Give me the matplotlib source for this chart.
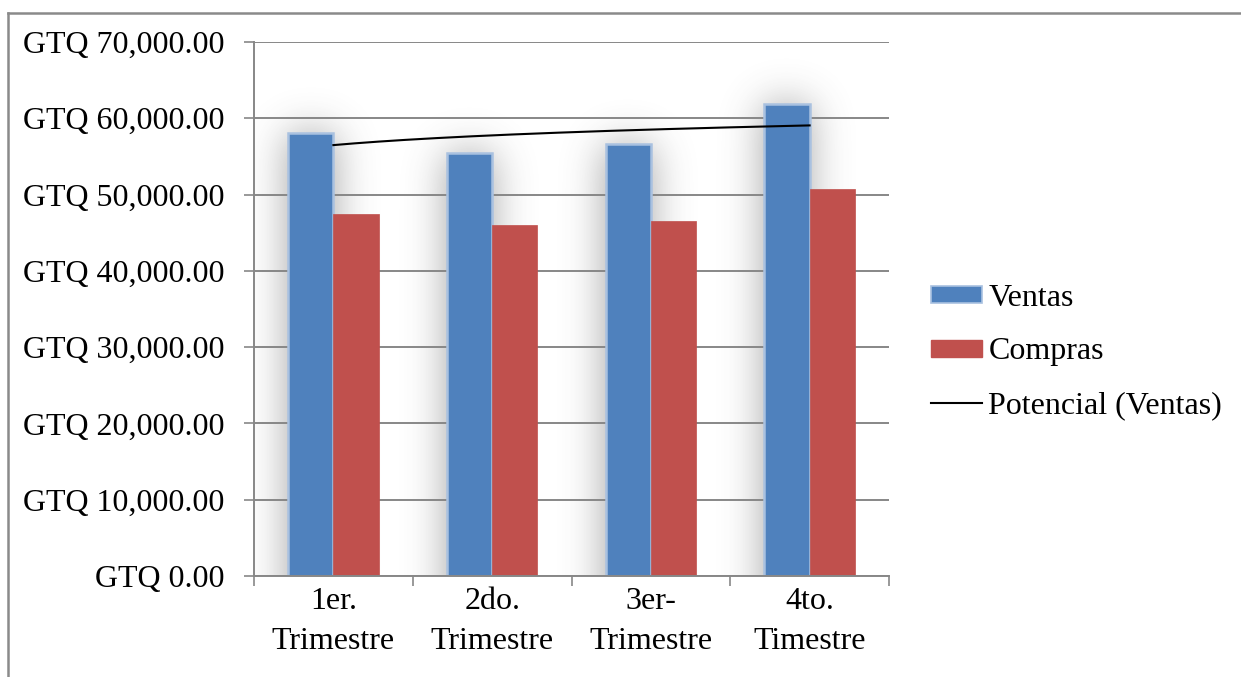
import matplotlib
matplotlib.use("Agg")
import matplotlib.pyplot as plt
import numpy as np
from matplotlib.lines import Line2D
from matplotlib.patches import Patch

# -------------------------
# DATA
# -------------------------
quarters = ["1er.\nTrimestre", "2do.\nTrimestre", "3er-\nTrimestre", "4to.\nTimestre"]
ventas = [58050, 55450, 56600, 61900]
compras = [47450, 46000, 46550, 50750]
y_ticks = [0, 10000, 20000, 30000, 40000, 50000, 60000, 70000]

BLUE = "#4F81BD"
BLUE_EDGE = "#A9C1E0"
RED = "#C0504D"
GRID = "#878787"

plt.rcParams["font.family"] = ["Liberation Serif", "DejaVu Serif"]
plt.rcParams["font.size"] = 23


def gaussian_blur(img, sigma_x, sigma_y):
    def kern(s):
        r = int(3 * s)
        t = np.arange(-r, r + 1)
        k = np.exp(-0.5 * (t / s) ** 2)
        return k / k.sum()
    kx = kern(sigma_x)
    ky = kern(sigma_y)
    out = np.apply_along_axis(lambda r: np.convolve(r, kx, mode="same"), 1, img)
    out = np.apply_along_axis(lambda c: np.convolve(c, ky, mode="same"), 0, out)
    return out


fig = plt.figure(figsize=(12.41, 6.77), dpi=100)
ax = fig.add_axes([254 / 1241, 1 - 576 / 677, 635 / 1241, 534 / 677])

x = np.arange(len(quarters))
width = 1 / 3.5  # gap width 150%

# soft glow behind the Ventas bars
nx, ny = 635, 534
gx = np.linspace(-0.5, 3.5, nx)
gy = np.linspace(0, 70000, ny)
XX, YY = np.meshgrid(gx, gy)
mask = np.zeros_like(XX)
for xi, v in zip(x, ventas):
    left = xi - width
    inside = (XX >= left) & (XX <= xi) & (YY <= v)
    mask[inside] = 1.0
# pad below the baseline so the glow keeps its strength down to y=0
padded = np.vstack([np.repeat(mask[:1], 60, axis=0), mask])
glow = gaussian_blur(padded, 20, 20)[60:]
rgba = np.zeros((ny, nx, 4))
rgba[..., :3] = 0.3
rgba[..., 3] = np.clip(glow * 0.52, 0, 1)
ax.imshow(rgba, extent=(-0.5, 3.5, 0, 70000), origin="lower", aspect="auto",
          zorder=0.2, interpolation="bilinear")

ax.bar(x - width / 2, ventas, width, color=BLUE, edgecolor=BLUE_EDGE, linewidth=1.8,
       zorder=2, label="Ventas")
ax.bar(x + width / 2, compras, width, color=RED, edgecolor=RED, linewidth=0.5,
       zorder=2, label="Compras")

# power trendline fitted on Ventas
xn = x + 1.0
b, ln_a = np.polyfit(np.log(xn), np.log(ventas), 1)
xf = np.linspace(1, len(quarters), 200)
ax.plot(xf - 1, np.exp(ln_a) * xf ** b, color="black", lw=1.5, zorder=3,
        label="Potencial (Ventas)")

ax.set_xlim(-0.5, 3.5)
ax.set_ylim(0, 70000)
ax.set_yticks(y_ticks)
ax.set_yticklabels([f"GTQ {v:,.2f}" for v in y_ticks])
ax.set_xticks(x)
ax.set_xticklabels(quarters, linespacing=1.5)
ax.set_xticks(np.arange(-0.5, 4.0, 1.0), minor=True)
ax.tick_params(axis="x", which="major", length=0, pad=8)
ax.tick_params(axis="x", which="minor", length=7, width=1.2, color=GRID)
ax.tick_params(axis="y", length=7, width=1.2, color=GRID, pad=14)

ax.set_axisbelow(True)
ax.yaxis.grid(True, color=GRID, lw=1.4)
for s in ["top", "right"]:
    ax.spines[s].set_visible(False)
for s in ["left", "bottom"]:
    ax.spines[s].set_color(GRID)
    ax.spines[s].set_linewidth(1.4)

handles = [
    Patch(facecolor=BLUE, edgecolor=BLUE_EDGE, lw=1.2, label="Ventas"),
    Patch(facecolor=RED, edgecolor=RED, label="Compras"),
    Line2D([0], [0], color="black", lw=1.5, label="Potencial (Ventas)"),
]
fig.legend(handles=handles, loc="center left", bbox_to_anchor=(931 / 1241, 1 - 352 / 677),
           frameon=False, handlelength=1.6, handleheight=0.45, handletextpad=0.2,
           labelspacing=0.78, borderpad=0, borderaxespad=0)

# outer chart frame (top and left edges visible)
fig.add_artist(Line2D([7.5 / 1241, 1.0], [1 - 12.5 / 677, 1 - 12.5 / 677],
                      transform=fig.transFigure, color="#8a8a8a", lw=1.8))
fig.add_artist(Line2D([7.5 / 1241, 7.5 / 1241], [0.0, 1 - 12.5 / 677],
                      transform=fig.transFigure, color="#8a8a8a", lw=1.8))

fig.savefig("out.png", dpi=100, facecolor="white")
